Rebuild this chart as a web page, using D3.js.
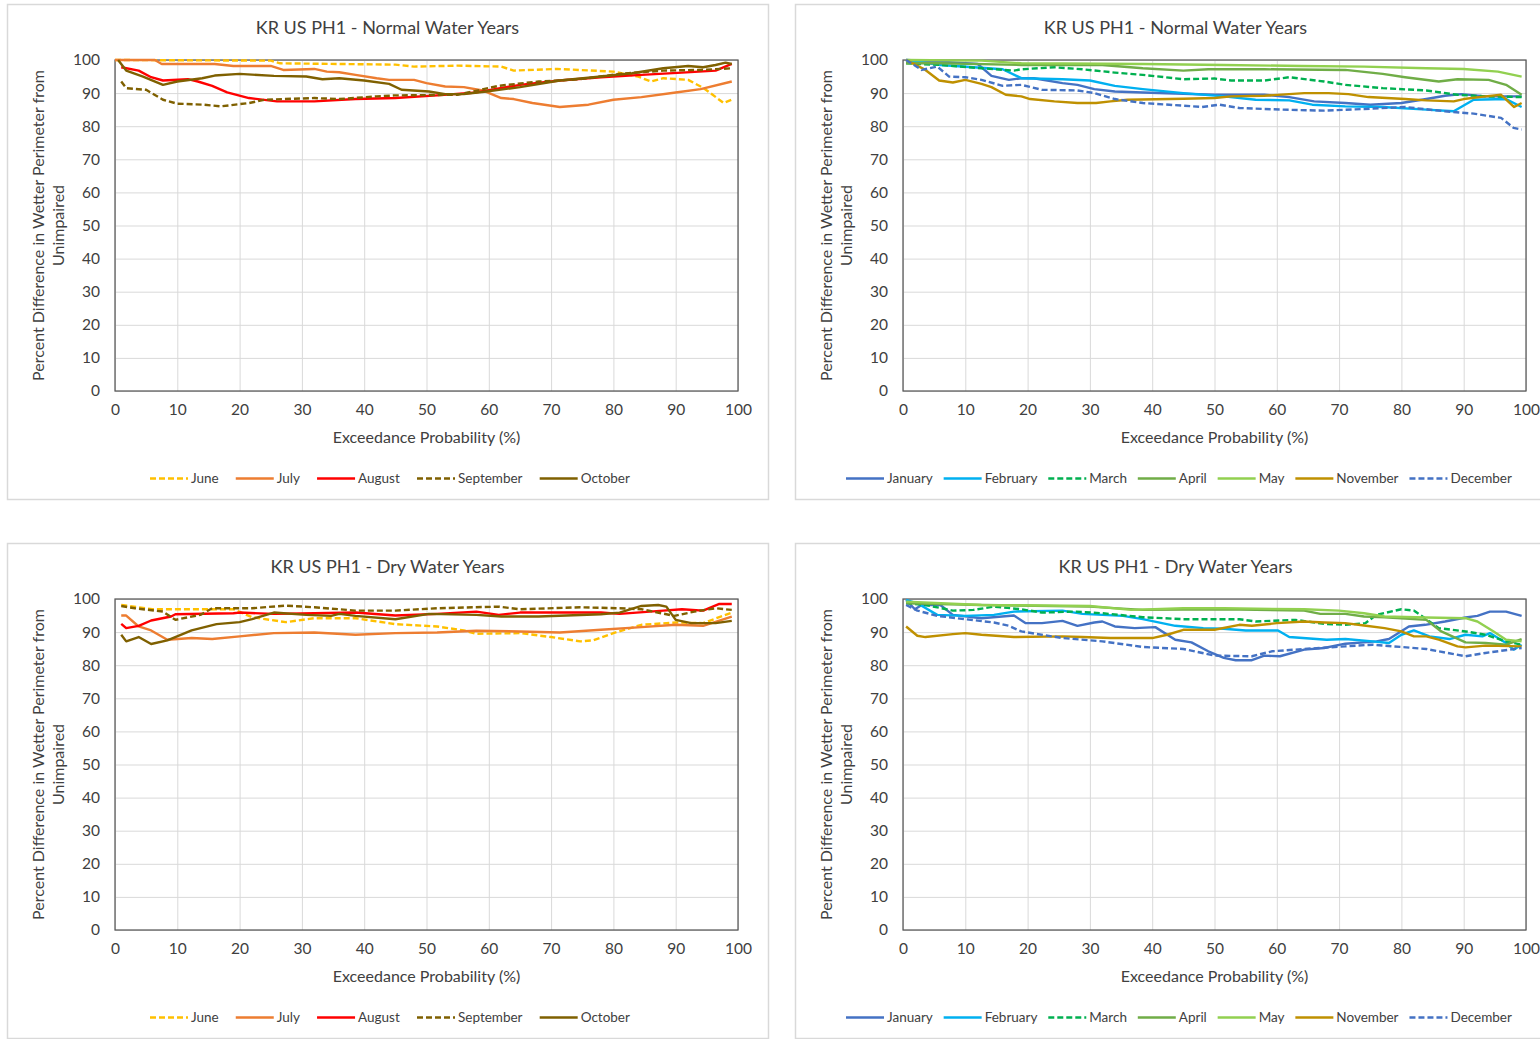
<!DOCTYPE html>
<html>
<head>
<meta charset="utf-8">
<script src="https://cdn.jsdelivr.net/npm/d3@7/dist/d3.min.js"></script>
<style>
  body { margin: 0; background: #fff; }
  text { font-family: Lato, "Open Sans", sans-serif; fill: #404040; }
</style>
</head>
<body>
<div id="chart"></div>
<script>
// ---- data : [exceedance %, percent difference] ----
var normJune = [[0,100],[25,99.8],[26.5,99],[45,98.6],[48,98],[55,98.3],[62,98],[64,96.8],[71,97.3],[80,96.5],[84,95],[86,93.5],[88,94.5],[92,94],[94.5,91.5],[97.7,87],[99,88]];
var normJuly = [[0,100],[6.4,100],[7.5,98.8],[16,98.8],[19,98.2],[25,98.2],[27,97],[32,97.3],[34,96.5],[36,96.3],[38.6,95.5],[42,94.5],[44,94],[48,94],[50,93],[53,92],[56,91.8],[59,90.8],[62,88.5],[64,88.2],[67,87],[71.4,85.8],[76,86.5],[80,88],[84.5,88.8],[90,90.2],[94,91.2],[99,93.5]];
var normAug = [[1,97.8],[3.8,96.8],[5.8,94.8],[7.7,93.8],[11.7,94.2],[13.3,93.5],[15.6,92.2],[18,90.2],[21.5,88.5],[26,87.5],[32,87.5],[38.6,88.2],[45,88.5],[51.7,89.3],[58,90.2],[65,92.5],[71.4,93.8],[78,94.8],[84.5,95.5],[91,96.2],[96.4,96.8],[99,98.8]];
var normSep = [[1,93.5],[1.8,91.5],[5,91],[7.7,88],[10,86.8],[14.3,86.5],[17,86],[21.5,87],[24,88],[28.7,88.3],[32,88.5],[36,88.2],[42,89],[45,89.3],[55,89.5],[61.6,92.2],[68,93.5],[74.7,94.2],[81,95.8],[88,96.8],[94,97],[99,97.5]];
var normOct = [[0.5,100],[1.8,96.8],[4.5,95],[7.7,92.5],[10,93.5],[14,94.5],[16,95.3],[20,95.8],[25.5,95.2],[30.7,95],[33.3,94.2],[36,94.5],[40,93.8],[44,92.8],[46,91],[50.4,90.5],[53,89.7],[56,89.7],[59.6,90.5],[65,91.8],[71.4,93.8],[78,95],[83,96],[88,97.5],[92,98.2],[94.4,97.8],[96.4,98.5],[98,99.2],[99,98.8]];

var normJan = [[0.5,100],[6,99.5],[12,98.8],[14.2,95.2],[17,94],[19,94.5],[21,94.5],[25.6,93],[28,92.5],[30.7,91.2],[34,90.5],[38.5,90.2],[45,89.8],[50,89.5],[58,89.5],[62,88.8],[66,87.5],[71,87],[75,86.5],[80,87],[84,88.2],[87,89.2],[89.6,89.7],[93.5,89],[96.8,89],[99.3,89]];
var normFeb = [[0.5,100],[6,98.5],[16,97.2],[19,94.5],[25.6,94.2],[30,93.8],[34,92.2],[38.5,91.2],[45,90],[51.5,89],[56.6,88],[62,87.8],[65.7,86.5],[71,86],[77,85.8],[84,85],[88.4,84.5],[91.6,88],[96.8,88.2],[99.3,85.8]];
var normMar = [[0.5,99],[6,98.5],[12.6,97.5],[17.8,96.8],[19,97.2],[24.3,97.8],[28.8,97.2],[34,96.2],[38.5,95.5],[45,94.2],[50,94.4],[52.7,93.8],[58,93.8],[62,94.8],[67.6,93.5],[71,92.5],[77,91.5],[84,90.8],[89,89.5],[93.5,89],[99.3,88.8]];
var normApr = [[0.5,99],[6,99],[19,98.5],[32,98.5],[38.5,97.5],[45,96.8],[49,97.2],[58,97.2],[71,97],[77,95.8],[80.6,94.8],[86,93.5],[89,94.2],[94,94],[96.8,92.5],[99.3,89.5]];
var normMay = [[0.5,100],[12.6,99.8],[19,99],[38.5,98.8],[51.5,98.5],[64,98.2],[74,98],[84,97.5],[90,97.3],[95.5,96.5],[99.3,95]];
var normNov = [[0.5,100],[3.6,97],[5.8,93.8],[8,93.2],[10,94],[12.6,92.8],[14.2,91.8],[16.5,89.5],[19,89],[20.4,88.2],[24.3,87.5],[28,87],[31,87],[33.3,87.5],[36,88],[45,88.3],[50,88.5],[52.7,89],[58,89.2],[64.4,90],[68.3,90],[71.5,89.7],[74.7,88.8],[80.6,88.2],[84,87.8],[88.4,87.5],[90,88.2],[93.5,89],[96,89.5],[98.1,85.8],[99.3,87]];
var normDec = [[0.5,100],[3,97],[5.5,98],[7.4,95],[10,94.8],[12.6,94],[16,92.2],[19,92.5],[22.3,91],[28,90.8],[30.7,90],[34,88.2],[38.5,87],[45,86.2],[48,85.8],[50.8,86.5],[54,85.5],[61,85],[67.6,84.7],[74,85.2],[80.6,85.8],[87,84.5],[91.6,83.8],[96,82.5],[98,79.5],[99.3,79]];

var dryJune = [[1,98.2],[6,96.9],[12.3,96.9],[19,96.9],[22,94.5],[27.4,93],[32,94.2],[38.6,94.2],[45,92.4],[51.7,91.7],[56,90.5],[58,89.5],[65,89.7],[70,88.5],[74.7,87.2],[76.7,87.5],[80,89.7],[84.5,92.2],[90,92.9],[94.4,92.7],[99,95.9]];
var dryJuly = [[1,95],[1.8,95],[3.8,91.7],[5.8,90.5],[8.4,87.7],[12.3,88.2],[15.6,87.9],[20,88.7],[25.5,89.7],[32,89.9],[38.6,89.2],[45,89.7],[51.7,89.9],[58,90.4],[65,90.2],[71.4,89.9],[78,90.7],[84.5,91.5],[90,92.2],[94.4,91.9],[99,94.7]];
var dryAug = [[1,92.5],[1.8,91.2],[3.8,91.9],[5.8,93.5],[9,94.7],[9.7,95.4],[19,95.7],[20,95.9],[25.5,95.5],[32,95.7],[38.6,95.9],[45,95],[51.7,95.5],[58,96.2],[61.6,95.2],[65,95.9],[71.4,95.9],[78,95.9],[81,95.5],[88,96.5],[91,96.9],[94.4,96.5],[97,98.5],[99,98.5]];
var drySep = [[1,97.9],[3.2,97.2],[7.7,96.2],[9.7,93.7],[13.7,95.2],[15.6,97.2],[22,97.2],[27.4,98],[32,97.5],[38.6,96.5],[45,96.5],[51.7,97.2],[61.6,97.7],[65,96.9],[74.7,97.5],[81,97.2],[84.5,96.9],[89.8,94.9],[93,96.2],[96.4,97.2],[99,96.7]];
var dryOct = [[1,89.2],[1.8,87.2],[3.8,88.5],[5.8,86.4],[8.4,87.5],[12.3,90.5],[16.3,92.4],[20,93],[22,93.9],[25.5,95.9],[30.7,95.2],[34.7,94.9],[36,95.5],[38.6,94.9],[45,93.9],[50.4,95.5],[58,95.2],[62,94.7],[68,94.7],[78,95.4],[81,95.9],[84.5,97.9],[87.2,98.2],[88.5,97.7],[90,93.7],[92.5,92.7],[96.4,92.7],[99,93.4]];

var dryJan = [[0.5,99.7],[1.9,96.9],[3,98.2],[6,98.2],[8,95.2],[12.6,94.2],[17.8,95],[19.7,92.7],[22.3,92.7],[25.6,93.4],[28,91.9],[30.7,92.9],[32,93.2],[34,91.7],[37.2,91.2],[40.5,91.5],[43.7,87.7],[46.3,86.9],[49,84.2],[51.5,82.2],[53.4,81.5],[56,81.5],[58,82.9],[60.5,82.7],[64.4,84.7],[67.6,85.2],[71,86.5],[76,87.2],[78,87.9],[81.2,91.7],[83.8,92.2],[87,93.2],[90.3,94.4],[92.2,94.9],[94.2,96.2],[96.8,96.2],[99.3,94.9]];
var dryFeb = [[0.5,99.7],[2.3,98.7],[5.5,95.2],[10,94.9],[14.6,95.2],[17.8,96.2],[25.6,96.5],[28.8,95.5],[35.3,94.9],[38.5,93.9],[43.7,91.9],[48.2,91.2],[51.5,91],[55,90.5],[60.2,90.5],[62,88.5],[68,87.7],[71,87.9],[75.4,87.2],[78,86.7],[80,89.2],[82,90.5],[84.5,88.7],[87.7,87.9],[90.3,89.2],[93,88.7],[94.2,89.7],[96.8,86.7],[98,84.7],[99.3,86.2]];
var dryMar = [[0.5,98.7],[3.6,98.2],[8,96.5],[11.3,96.7],[14.6,97.7],[19,96.9],[22.3,95.9],[27.5,96.2],[32,95.7],[38.5,94.5],[45,93.9],[54,93.9],[56.6,93.2],[63,93.7],[67.6,92.5],[71,92.2],[74.2,92.7],[76,95.2],[80,96.9],[82,96.5],[83.8,94.2],[86,91.2],[90.3,90.2],[93.5,89.2],[96.8,87.2],[99.3,86.2]];
var dryApr = [[0.5,98.7],[12.6,98.2],[30,97.7],[38.5,96.7],[51.5,96.9],[64.4,96.5],[67,95.5],[71,95.5],[74,94.7],[77.3,94.5],[84,93.7],[86.4,90.2],[90.3,86.9],[93.5,86.7],[96.8,86.2],[99.3,87.9]];
var dryMay = [[0.5,99.2],[12.6,98.2],[30,97.9],[36.6,96.7],[45,97.2],[51.5,97.2],[64.4,96.9],[70,96.5],[74,95.7],[77.3,94.7],[84,94.4],[90.3,94.2],[92.2,93.2],[94.8,90.2],[96.8,87.7],[99.3,87.2]];
var dryNov = [[0.5,91.7],[2.3,88.9],[3.6,88.5],[8,89.4],[10,89.7],[12.6,89.2],[17.8,88.5],[25.6,88.7],[28.8,88.5],[33.3,88.2],[40,88.2],[42.4,89.2],[45,90.7],[50,90.7],[54,92.2],[56,91.9],[60,92.7],[64.4,93.2],[67.6,92.9],[71,92.7],[74,92],[77.3,91.2],[80,90.2],[82,88.7],[84,88.7],[86,87.7],[89,85.7],[90.3,85.4],[93.5,85.9],[99.3,85.7]];
var dryDec = [[0.5,98.2],[2.3,96.5],[5.5,94.9],[10,93.9],[14.6,92.9],[17,91.9],[19,90.2],[25.6,88.2],[32,87.2],[38.5,85.5],[45,84.9],[50,82.9],[56,82.7],[59.2,84.2],[64.4,84.9],[71,85.7],[75.4,86.2],[77.3,85.9],[84,84.9],[90.3,82.7],[93.5,83.7],[99.3,85.2]];

var summerMonths = ["June", "July", "August", "September", "October"];
var winterMonths = ["January", "February", "March", "April", "May", "November", "December"];
var xTicks = [0, 10, 20, 30, 40, 50, 60, 70, 80, 90, 100];
var yTicks = [0, 10, 20, 30, 40, 50, 60, 70, 80, 90, 100];

// line styles per month
var style = {
  June:      {color: "#FFC000", dash: "6,3"},
  July:      {color: "#ED7D31", dash: null},
  August:    {color: "#FF0000", dash: null},
  September: {color: "#7F6000", dash: "6,3"},
  October:   {color: "#7F6000", dash: null},
  January:   {color: "#4472C4", dash: null},
  February:  {color: "#00B0F0", dash: null},
  March:     {color: "#00B050", dash: "6,3"},
  April:     {color: "#70AD47", dash: null},
  May:       {color: "#92D050", dash: null},
  November:  {color: "#BF9000", dash: null},
  December:  {color: "#4472C4", dash: "6,3"}
};

// legend spans (start/end inside each panel box)
var panels = [
  {x: 7,   y: 4,   title: "KR US PH1 - Normal Water Years", months: summerMonths, leg: [143, 623],
   series: [normJune, normJuly, normAug, normSep, normOct]},
  {x: 795, y: 4,   title: "KR US PH1 - Normal Water Years", months: winterMonths, leg: [51, 717],
   series: [normJan, normFeb, normMar, normApr, normMay, normNov, normDec]},
  {x: 7,   y: 543, title: "KR US PH1 - Dry Water Years", months: summerMonths, leg: [143, 623],
   series: [dryJune, dryJuly, dryAug, drySep, dryOct]},
  {x: 795, y: 543, title: "KR US PH1 - Dry Water Years", months: winterMonths, leg: [51, 717],
   series: [dryJan, dryFeb, dryMar, dryApr, dryMay, dryNov, dryDec]}
];

var W = 1540, H = 1039,
    boxW = 761, boxH = 495,
    margin = {left: 108, top: 56},
    pw = 623, ph = 331;

var svg = d3.select("#chart").append("svg")
    .attr("width", W)
    .attr("height", H);

var x = d3.scaleLinear().domain([0, 100]).range([0, pw]);
var y = d3.scaleLinear().domain([0, 100]).range([ph, 0]);

var line = d3.line()
    .x(function(d) { return x(d[0]); })
    .y(function(d) { return y(d[1]); });

panels.forEach(function(p) {
  var g = svg.append("g").attr("transform", "translate(" + p.x + "," + p.y + ")");

  g.append("rect")
    .attr("x", 0.5).attr("y", 0.5)
    .attr("width", boxW).attr("height", boxH)
    .attr("fill", "#fff")
    .attr("stroke", "#D9D9D9")
    .attr("stroke-width", 1.5);

  g.append("text")
    .attr("x", boxW / 2).attr("y", 30)
    .attr("text-anchor", "middle")
    .style("font-size", "18px")
    .text(p.title);

  var plot = g.append("g").attr("transform", "translate(" + margin.left + "," + margin.top + ")");

  // gridlines
  plot.append("g")
    .attr("class", "grid")
    .call(d3.axisLeft(y).tickValues(yTicks).tickSize(-pw).tickFormat(""))
    .call(function(s) { s.select(".domain").remove(); });
  plot.append("g")
    .attr("class", "grid")
    .attr("transform", "translate(0," + ph + ")")
    .call(d3.axisBottom(x).tickValues(xTicks).tickSize(-ph).tickFormat(""))
    .call(function(s) { s.select(".domain").remove(); });
  plot.selectAll(".grid line").attr("stroke", "#D9D9D9").attr("stroke-width", 1);

  // plot frame (under the series)
  plot.append("rect")
    .attr("width", pw).attr("height", ph)
    .attr("fill", "none")
    .attr("stroke", "#595959")
    .attr("stroke-width", 1.25);

  // axes with labels
  var ya = plot.append("g")
    .call(d3.axisLeft(y).tickValues(yTicks).tickSize(0).tickPadding(15));
  var xa = plot.append("g")
    .attr("transform", "translate(0," + ph + ")")
    .call(d3.axisBottom(x).tickValues(xTicks).tickSize(0).tickPadding(13));
  [ya, xa].forEach(function(a) {
    a.select(".domain").remove();
    a.selectAll("text").style("font-size", "15.5px").attr("fill", "#404040").style("font-family", "Lato, sans-serif");
  });

  // series
  p.months.forEach(function(m, i) {
    plot.append("path")
      .datum(p.series[i])
      .attr("d", line)
      .attr("fill", "none")
      .attr("stroke", style[m].color)
      .attr("stroke-width", 2.4)
      .attr("stroke-dasharray", style[m].dash)
      .attr("stroke-linejoin", "round");
  });

  // axis titles
  plot.append("text")
    .attr("x", pw / 2).attr("y", ph + 52)
    .attr("text-anchor", "middle")
    .style("font-size", "16px")
    .text("Exceedance Probability (%)");

  var yt = g.append("text")
    .attr("transform", "translate(31," + (margin.top + ph / 2) + ") rotate(-90)")
    .attr("text-anchor", "middle")
    .style("font-size", "16px");
  yt.append("tspan").attr("x", 0).attr("dy", "0.35em").text("Percent Difference in Wetter Perimeter from");
  yt.append("tspan").attr("x", 0).attr("dy", "1.3em").text("Unimpaired");

  // legend
  var lg = g.append("g").attr("transform", "translate(0,474.5)");
  var items = lg.selectAll("g").data(p.months).enter().append("g");
  items.append("line")
    .attr("x1", 0).attr("x2", 38).attr("y1", 0).attr("y2", 0)
    .attr("stroke", function(m) { return style[m].color; })
    .attr("stroke-width", 2.4)
    .attr("stroke-dasharray", function(m) { return style[m].dash; });
  items.append("text")
    .attr("x", 41).attr("dy", "0.35em")
    .style("font-size", "13.5px")
    .text(function(m) { return m; });
  var widths = [];
  items.each(function() { widths.push(this.getBBox().width); });
  var gap = (p.leg[1] - p.leg[0] - d3.sum(widths)) / (widths.length - 1);
  var pos = p.leg[0];
  items.each(function(d, i) {
    d3.select(this).attr("transform", "translate(" + pos + ",0)");
    pos += widths[i] + gap;
  });
});
</script>
</body>
</html>
